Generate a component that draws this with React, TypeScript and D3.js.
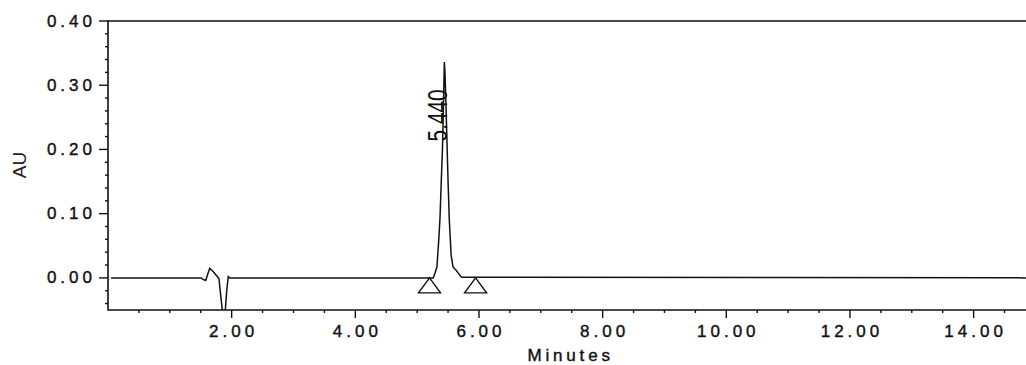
import { useEffect, useRef } from 'react';
import * as d3 from 'd3';

// retention time (min) and absorbance (AU)
const times = [
  0.05, 1.51, 1.53, 1.58, 1.61, 1.645, 1.7, 1.75, 1.795, 1.82, 1.86, 1.89, 1.92, 1.945, 1.97,
  5.26, 5.29, 5.32, 5.35, 5.37, 5.39, 5.41, 5.43, 5.44, 5.45, 5.46, 5.48, 5.5, 5.52, 5.55,
  5.58, 5.63, 5.69, 5.72, 15.0,
];
const absorbance = [
  0.0, 0.0, -0.002, -0.004, 0.005, 0.015, 0.01, 0.004, -0.001, -0.025, -0.06, -0.06, -0.02, 0.002, 0.0,
  0.0, 0.008, 0.017, 0.06, 0.094, 0.15, 0.203, 0.29, 0.336, 0.32, 0.29, 0.22, 0.15, 0.09, 0.035,
  0.017, 0.012, 0.004, 0.001, 0.0,
];

const yMajorTicks = [0.0, 0.1, 0.2, 0.3, 0.4];
const yMinorTicks = [-0.04, -0.02, 0.02, 0.04, 0.06, 0.08, 0.12, 0.14, 0.16, 0.18, 0.22, 0.24, 0.26, 0.28, 0.32, 0.34, 0.36, 0.38];
const xMajorTicks = [2, 4, 6, 8, 10, 12, 14];
const xMinorTicks = [0.5, 1, 1.5, 2.5, 3, 3.5, 4.5, 5, 5.5, 6.5, 7, 7.5, 8.5, 9, 9.5, 10.5, 11, 11.5, 12.5, 13, 13.5, 14.5];

const peakTime = 5.44;
const peakLabel = '5.440';
const baselineMarks = [5.2, 5.945];

export default function App() {
  const svgRef = useRef<SVGSVGElement>(null);

  useEffect(() => {
    if (!svgRef.current) return;
    const width = 1026;
    const height = 365;
    const margin = { top: 21, left: 108, bottom: 310 };

    const svg = d3.select(svgRef.current);
    svg.selectAll('*').remove();
    svg.attr('width', width).attr('height', height);

    const x = d3.scaleLinear().domain([0, 15]).range([margin.left, margin.left + 15 * 61.83]);
    const y = d3.scaleLinear().domain([-0.05, 0.4]).range([margin.bottom, margin.top]);

    const font = '"Liberation Sans", Arial, sans-serif';
    const ink = '#111';

    svg.append('defs').append('clipPath').attr('id', 'plot')
      .append('rect')
      .attr('x', margin.left).attr('y', margin.top)
      .attr('width', width).attr('height', margin.bottom - margin.top);

    // frame: top + left + bottom
    svg.append('path')
      .attr('d', `M${width + 5},${margin.top}H${margin.left}V${margin.bottom}H${width + 5}`)
      .attr('fill', 'none').attr('stroke', ink).attr('stroke-width', 1.6);

    // y ticks
    const yAxis = svg.append('g');
    yMajorTicks.forEach((v) => {
      yAxis.append('line')
        .attr('x1', margin.left - 9).attr('x2', margin.left)
        .attr('y1', y(v)).attr('y2', y(v))
        .attr('stroke', ink).attr('stroke-width', 1.4);
      yAxis.append('text')
        .attr('x', 96).attr('y', y(v))
        .attr('text-anchor', 'end').attr('dominant-baseline', 'central')
        .attr('font-family', font).attr('font-size', 17).attr('letter-spacing', 4)
        .attr('fill', ink).attr('stroke', ink).attr('stroke-width', 0.4)
        .text(d3.format('.2f')(v));
    });
    yMinorTicks.forEach((v) => {
      yAxis.append('line')
        .attr('x1', margin.left - 3).attr('x2', margin.left)
        .attr('y1', y(v)).attr('y2', y(v))
        .attr('stroke', ink).attr('stroke-width', 1.4);
    });

    // x ticks
    const xAxis = svg.append('g');
    xMajorTicks.forEach((v) => {
      xAxis.append('line')
        .attr('x1', x(v)).attr('x2', x(v))
        .attr('y1', margin.bottom).attr('y2', margin.bottom + 8)
        .attr('stroke', ink).attr('stroke-width', 1.4);
      xAxis.append('text')
        .attr('x', x(v)).attr('dx', 2).attr('y', 337)
        .attr('text-anchor', 'middle')
        .attr('font-family', font).attr('font-size', 17).attr('letter-spacing', 4)
        .attr('fill', ink).attr('stroke', ink).attr('stroke-width', 0.4)
        .text(d3.format('.2f')(v));
    });
    xMinorTicks.forEach((v) => {
      xAxis.append('line')
        .attr('x1', x(v)).attr('x2', x(v))
        .attr('y1', margin.bottom).attr('y2', margin.bottom + 3)
        .attr('stroke', ink).attr('stroke-width', 1.4);
    });

    // axis titles
    svg.append('text')
      .attr('x', x(7.45)).attr('dx', 2).attr('y', 361)
      .attr('text-anchor', 'middle')
      .attr('font-family', font).attr('font-size', 17).attr('letter-spacing', 3.8)
      .attr('fill', ink).attr('stroke', ink).attr('stroke-width', 0.4)
      .text('Minutes');
    svg.append('text')
      .attr('transform', 'translate(26,165) rotate(-90)')
      .attr('text-anchor', 'middle')
      .attr('font-family', font).attr('font-size', 19)
      .attr('fill', '#2a2020')
      .text('AU');

    // trace
    const line = d3.line<number>()
      .x((_d, i) => x(times[i]))
      .y((d) => y(d));
    svg.append('path')
      .datum(absorbance)
      .attr('clip-path', 'url(#plot)')
      .attr('d', line)
      .attr('fill', 'none').attr('stroke', ink).attr('stroke-width', 1.5);

    // baseline markers
    baselineMarks.forEach((t) => {
      const cx = x(t);
      const cy = y(0);
      svg.append('path')
        .attr('d', `M${cx},${cy}L${cx + 11},${cy + 15}L${cx - 11},${cy + 15}Z`)
        .attr('fill', 'none').attr('stroke', ink).attr('stroke-width', 1.4);
    });

    // peak label
    svg.append('text')
      .attr('transform', `translate(${x(peakTime) + 3},${y(0.253)}) rotate(-90)`)
      .attr('text-anchor', 'middle')
      .attr('font-family', font).attr('font-size', 27)
      .attr('textLength', 52).attr('lengthAdjust', 'spacingAndGlyphs')
      .attr('fill', ink)
      .text(peakLabel);
  }, []);

  return (
    <svg
      ref={svgRef}
      style={{ position: 'absolute', left: 0, top: 0, background: '#fff' }}
    />
  );
}
